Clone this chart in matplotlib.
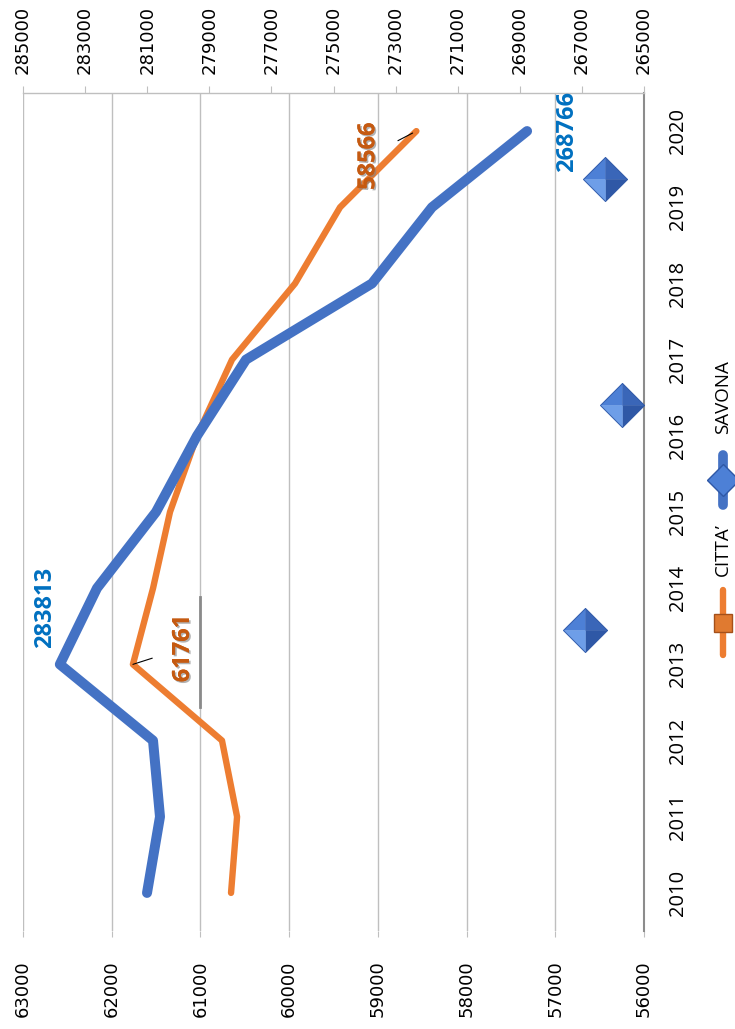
import matplotlib
matplotlib.use("Agg")
import matplotlib.pyplot as plt
import matplotlib.patheffects as pe
from matplotlib.lines import Line2D
import numpy as np

# dati
years = ["2010", "2011", "2012", "2013", "2014", "2015", "2016", "2017", "2018", "2019", "2020"]
citta = [60655, 60587, 60757, 61761, 61534, 61343, 61038, 60644, 59933, 59426, 58566]
savona = [281006, 280588, 280813, 283813, 282617, 280717, 279396, 277818, 273760, 271828, 268766]
# rombi sparsi nel grafico (posizione categoria, valore asse primario)
rombi_pos = [3.45, 6.40, 9.37]
rombi_val = [56660, 56250, 56440]

left_ticks = list(range(56000, 63001, 1000))
top_ticks = list(range(265000, 285001, 2000))

BLUE = "#4472C4"
ORANGE = "#ED7D31"
GRID = "#BFBFBF"
LAB_BLUE = "#0070C0"
LAB_ORANGE = "#C55A11"

W, H = 735, 1029
fig = plt.figure(figsize=(W / 100, H / 100), dpi=100)

# area del grafico in pixel (ruotata di 90 gradi)
x0, x1 = 23, 644
y_top, y_bot = 93, 931
ax = fig.add_axes([x0 / W, 1 - y_bot / H, (x1 - x0) / W, (y_bot - y_top) / H])
idx = np.arange(len(years))

ax.set_xlim(63000, 56000)
ax.set_ylim(-0.5, len(years) - 0.5)
ax.set_xticks(left_ticks)
ax.set_xticklabels([str(v) for v in left_ticks], rotation=90, fontsize=13,
                   family="DejaVu Sans")
ax.tick_params(axis="x", direction="out", length=4, color=GRID, pad=17)
ax.grid(axis="x", color=GRID, lw=1.0, zorder=0)
ax.set_axisbelow(True)

ax.yaxis.tick_right()
ax.set_yticks(idx)
ax.set_yticklabels(years, rotation=90, fontsize=14.5, family="Open Sans", va="center")
ax.tick_params(axis="y", length=0, pad=17)
for s in ["left", "top", "bottom"]:
    ax.spines[s].set_visible(False)
ax.spines["right"].set_color("#8C8C8C")
ax.spines["right"].set_linewidth(1.5)

ax.plot(citta, idx, color=ORANGE, lw=4.6, solid_capstyle="round",
        solid_joinstyle="round", zorder=3)


def facet_markers(axis, xs, ys, size, colors, edge, z):
    facets = [
        [(0, 0), (-1, 0), (0, 1), (0, 0)],
        [(0, 0), (0, 1), (1, 0), (0, 0)],
        [(0, 0), (1, 0), (0, -1), (0, 0)],
        [(0, 0), (0, -1), (-1, 0), (0, 0)],
    ]
    for f, c in zip(facets, colors):
        axis.plot(xs, ys, ls="none", marker=f, ms=size, mfc=c, mec=c, mew=0.3, zorder=z)
    axis.plot(xs, ys, ls="none", marker="D", ms=size * 0.707, mfc="none",
              mec=edge, mew=0.6, zorder=z + 0.1)


facet_markers(ax, rombi_val, rombi_pos, 32,
              ["#4D80D6", "#3A66B8", "#2F58A6", "#6E9EE8"], "#2F58A6", 4)

ax.axvline(61000, ymin=0.267, ymax=0.399, color="#8A8A8A", lw=2, zorder=2)

ax2 = ax.twiny()
ax2.set_xlim(285000, 265000)
ax2.set_xticks(top_ticks)
ax2.set_xticklabels([str(v) for v in top_ticks], rotation=90, fontsize=13,
                    family="DejaVu Sans")
ax2.tick_params(axis="x", direction="out", length=5, color=GRID, pad=9)
for s in ["left", "right", "bottom"]:
    ax2.spines[s].set_visible(False)
ax2.spines["top"].set_color(GRID)
ax2.spines["top"].set_linewidth(1.0)

ax2.plot(savona, idx, color=BLUE, lw=7.2, solid_capstyle="round",
         solid_joinstyle="round", zorder=3)

# etichette dati
lab_font = dict(rotation=90, fontsize=17, family="Open Sans", fontweight="bold",
                ha="center", va="center", textcoords="offset pixels")
ax2.annotate(str(savona[3]), (savona[3], idx[3]), xytext=(-15, 57), color=LAB_BLUE, **lab_font)
ax2.annotate(str(savona[10]), (savona[10], idx[10]), xytext=(40, 0), color=LAB_BLUE, **lab_font)

shadow = [pe.withSimplePatchShadow(offset=(1.2, -1.2), shadow_rgbFace="#808080", alpha=0.6),
          pe.Normal()]
ax2.annotate(str(citta[3]), (citta[3], idx[3]), xytext=(50, 16), color=LAB_ORANGE,
             xycoords=ax.transData, path_effects=shadow,
             arrowprops=dict(arrowstyle="-", color="black", lw=0.8, shrinkA=12, shrinkB=0),
             **lab_font)
ax2.annotate(str(citta[10]), (citta[10], idx[10]), xytext=(-48, -25), color=LAB_ORANGE,
             xycoords=ax.transData, path_effects=shadow,
             arrowprops=dict(arrowstyle="-", color="black", lw=0.8, shrinkA=12, shrinkB=3),
             **lab_font)

# legenda (ruotata)
lx = 723 / W
fig.add_artist(Line2D([lx, lx], [1 - 455 / H, 1 - 505 / H], transform=fig.transFigure,
                      color=BLUE, lw=7, solid_capstyle="round"))
fig.add_artist(Line2D([lx], [1 - 480 / H], transform=fig.transFigure, ls="none",
                      marker="D", ms=16, mfc="#4D80D6", mec="#2F58A6"))
fig.text(lx, 1 - 397 / H, "SAVONA", rotation=90, ha="center", va="center",
         fontsize=13.5, family="Open Sans", color="black")
fig.add_artist(Line2D([lx, lx], [1 - 590 / H, 1 - 655 / H], transform=fig.transFigure,
                      color=ORANGE, lw=4.6, solid_capstyle="round"))
fig.add_artist(Line2D([lx], [1 - 623 / H], transform=fig.transFigure, ls="none",
                      marker="s", ms=13, mfc="#E07A30", mec="#A4501A"))
fig.text(lx, 1 - 550 / H, "CITTA’", rotation=90, ha="center", va="center",
         fontsize=13.5, family="Open Sans", color="black")

fig.savefig("out.png", dpi=100)
